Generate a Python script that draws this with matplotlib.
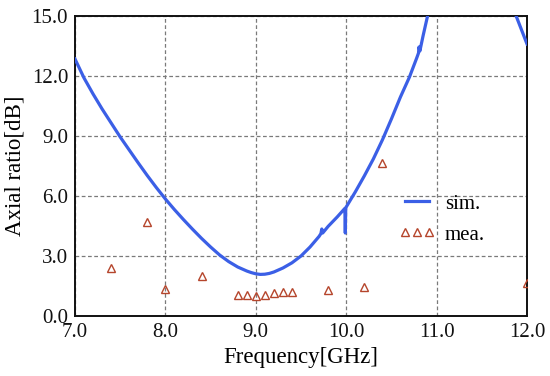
import numpy as np
import matplotlib
matplotlib.use("Agg")
import matplotlib.pyplot as plt

plt.rcParams['font.family'] = ['Liberation Serif', 'DejaVu Serif']
plt.rcParams['mathtext.fontset'] = 'stix'

# simulated axial ratio
sim_freq = [7.0, 7.1, 7.2, 7.3, 7.4, 7.5, 7.6, 7.7, 7.8, 7.9, 8.0, 8.1, 8.2, 8.3, 8.4,
            8.5, 8.6, 8.7, 8.8, 8.9, 8.95, 9.0, 9.05, 9.1, 9.15, 9.2, 9.3, 9.4, 9.5, 9.6, 9.7,
            9.72, 9.73, 9.74, 9.8, 9.9, 9.985, 9.99, 9.995, 10.0, 10.1, 10.2, 10.3,
            10.4, 10.5, 10.6, 10.7, 10.78, 10.8, 10.805, 10.815, 10.85, 10.9, 10.95,
            11.83, 11.88, 12.0]
sim_ar = [12.85, 11.9, 11.1, 10.35, 9.65, 8.95, 8.3, 7.65, 7.02, 6.42, 5.85, 5.32, 4.82, 4.34, 3.88,
          3.45, 3.05, 2.72, 2.45, 2.25, 2.17, 2.11, 2.08, 2.09, 2.13, 2.2, 2.4, 2.66, 3.0, 3.45, 3.98,
          4.12, 4.35, 4.15, 4.48, 4.95, 5.38, 4.15, 5.4, 5.45, 6.2, 7.0, 7.85,
          8.8, 9.85, 10.95, 11.95, 12.9, 13.15, 13.45, 13.25, 14.0, 15.0, 16.1,
          16.0, 15.0, 13.6]

# measured axial ratio
mea_freq = [7.4, 7.8, 8.0, 8.4, 8.8, 8.9, 9.0, 9.1, 9.2, 9.3, 9.4, 9.8, 10.2, 10.4, 12.0]
mea_ar = [2.38, 4.72, 1.33, 2.0, 1.05, 1.05, 1.02, 1.05, 1.13, 1.2, 1.18, 1.3, 1.43, 7.65, 1.67]

xticks = [7.0, 8.0, 9.0, 10.0, 11.0, 12.0]
yticks = [0.0, 3.0, 6.0, 9.0, 12.0, 15.0]

fig = plt.figure(figsize=(5.5, 3.76), dpi=100)
ax = fig.add_axes([75/550, 60/376, 452/550, 300/376])

ax.plot(sim_freq, sim_ar, color='#3b5fe6', lw=2.3, label='sim.', zorder=3,
        solid_joinstyle='round')
ax.plot(mea_freq, mea_ar, linestyle='none', marker='^', markersize=5.8,
        markerfacecolor='none', markeredgecolor='#b5452c', markeredgewidth=1.0,
        label='mea.', zorder=4)

ax.set_xlim(7.0, 12.0)
ax.set_ylim(0.0, 15.0)
ax.set_xticks(xticks)
ax.set_yticks(yticks)
ax.set_xticklabels([f"{v:.1f}" for v in xticks])
ax.set_yticklabels([f"{v:.1f}" for v in yticks])
ax.tick_params(length=0, labelsize=15, pad=5, colors='#111111')
ax.grid(True, color='#7a7a7a', linestyle=(0, (3, 2)), linewidth=0.9)
for s in ax.spines.values():
    s.set_linewidth(1.4)
    s.set_color('#111111')

ax.set_xlabel('Frequency[GHz]', fontsize=16.5, labelpad=4)
ax.set_ylabel('Axial ratio[dB]', fontsize=16.5, labelpad=4)

leg = ax.legend(loc='upper left', bbox_to_anchor=(399/550, 1 - 194/376),
                bbox_transform=fig.transFigure, frameon=False, numpoints=3,
                fontsize=15, handlelength=1.75, handletextpad=0.45,
                borderpad=0, borderaxespad=0, labelspacing=0.55)

fig.savefig('out.png', dpi=100)
